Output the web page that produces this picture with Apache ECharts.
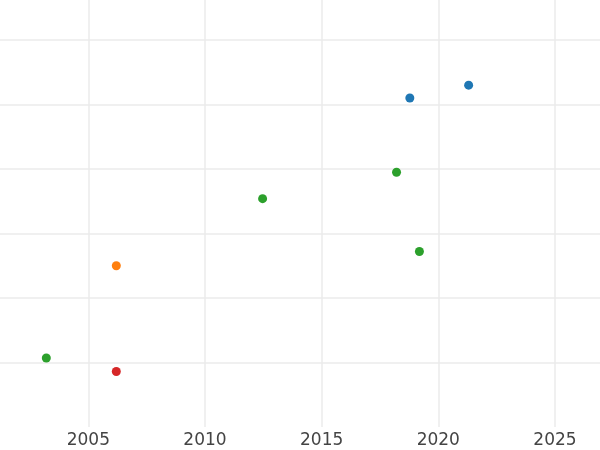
<!DOCTYPE html>
<html>
<head>
<meta charset="utf-8">
<script src="https://cdn.jsdelivr.net/npm/echarts@6/dist/echarts.min.js"></script>
<style>html,body{margin:0;padding:0;background:#fff}#c{width:600px;height:450px}</style>
</head>
<body>
<div id="c"></div>
<script>
const blueX = [2018.78, 2021.30];
const blueY = [4.10, 4.30];
const orangeX = [2006.20];
const orangeY = [1.50];
const greenX = [2018.21, 2012.47, 2019.19, 2003.20];
const greenY = [2.95, 2.54, 1.72, 0.07];
const redX = [2006.20];
const redY = [-0.14];
const xMin = 2001.215, xMax = 2026.93;
const yMin = -1, yMax = 5.62;

const zip = (xs, ys) => xs.map((x, i) => [x, ys[i]]);
const mk = (name, xs, ys, color) => ({
  name, type: 'scatter', data: zip(xs, ys), symbolSize: 9,
  itemStyle: { color, opacity: 1 }, emphasis: { disabled: true }
});

const chart = echarts.init(document.getElementById('c'), null, { renderer: 'canvas' });
chart.setOption({
  animation: false,
  backgroundColor: '#ffffff',
  grid: { left: 0, right: 0, top: 0, bottom: 23, containLabel: false },
  xAxis: {
    type: 'value', min: xMin, max: xMax, splitNumber: 5,
    axisLine: { show: false }, axisTick: { show: false },
    axisLabel: { show: true, showMinLabel: false, showMaxLabel: false, color: '#444444', fontFamily: 'DejaVu Sans', fontSize: 17, margin: 5, formatter: v => String(Math.round(v)) },
    splitLine: { show: true, showMinLine: false, showMaxLine: false, lineStyle: { color: '#ebebeb', width: 1.5 } }
  },
  yAxis: {
    type: 'value', min: yMin, max: yMax, splitNumber: 6,
    axisLine: { show: false }, axisTick: { show: false }, axisLabel: { show: false },
    splitLine: { show: true, showMinLine: false, showMaxLine: false, lineStyle: { color: '#ebebeb', width: 1.5 } }
  },
  series: [
    mk('blue', blueX, blueY, '#1f77b4'),
    mk('orange', orangeX, orangeY, '#ff7f0e'),
    mk('green', greenX, greenY, '#2ca02c'),
    mk('red', redX, redY, '#d62728')
  ]
});
</script>
</body>
</html>
